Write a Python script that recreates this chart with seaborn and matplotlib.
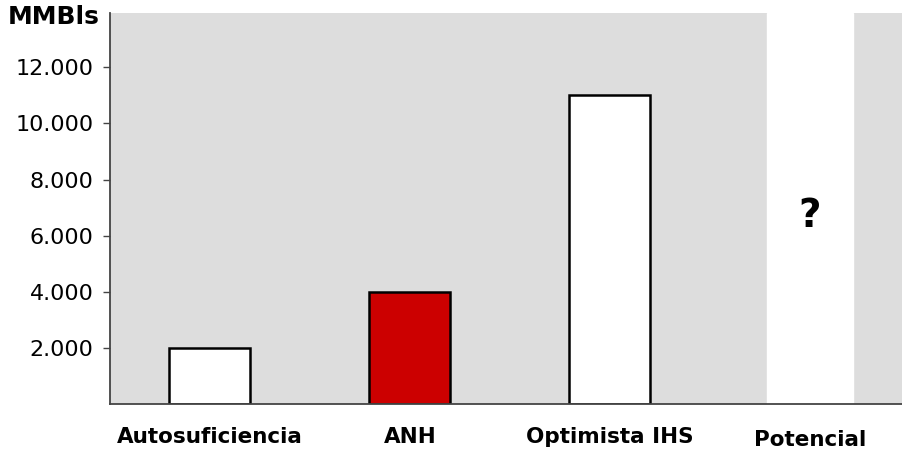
import matplotlib
matplotlib.use("Agg")
import matplotlib.pyplot as plt
import seaborn as sns
import pandas as pd

# data
categorias = ["Autosuficiencia", "ANH", "Optimista IHS", "Potencial"]
valores = [2000, 4000, 11000]
colores = ["#FFFFFF", "#CC0000", "#FFFFFF"]
yticks = [2000, 4000, 6000, 8000, 10000, 12000]
ytick_labels = ["2.000", "4.000", "6.000", "8.000", "10.000", "12.000"]

sns.set_style("white")
plt.rcParams['font.family'] = ['DejaVu Sans']
plt.rcParams['text.color'] = 'black'
plt.rcParams['xtick.color'] = 'black'
plt.rcParams['ytick.color'] = 'black'

df = pd.DataFrame({"cat": categorias[:3], "val": valores})

fig = plt.figure(figsize=(9.03, 4.53), dpi=100)
ax = fig.add_axes([0.1218, 0.108, 0.8782, 0.863])
ax.set_facecolor("#DDDDDD")

# white column behind the "Potencial" category
pos_pot = categorias.index("Potencial")
ax.axvspan(pos_pot - 0.215, pos_pot + 0.215, color="white", zorder=0.5)

sns.barplot(data=df, x="cat", y="val", hue="cat", order=categorias,
            palette=colores, saturation=1, edgecolor="black", linewidth=1.8,
            width=0.405, legend=False, ax=ax, zorder=2)

ax.text(pos_pot, 6700, "?", ha="center", va="center",
        fontsize=28, fontweight="bold", color="black", zorder=3)

ax.set_xlim(-0.5, 3.465)
ax.set_ylim(0, 13930)
ax.set_yticks(yticks)
ax.set_yticklabels(ytick_labels, fontsize=16)
ax.set_xlabel("")
ax.set_ylabel("")
ax.tick_params(axis="y", left=True, length=5, width=1, color="#444444", pad=7)
ax.tick_params(axis="x", bottom=False, pad=13)
for lab in ax.get_xticklabels():
    lab.set_fontweight("bold")
    lab.set_fontsize(15.5)
    if lab.get_text() == "Potencial":
        lab.set_y(-0.008)

for s in ["top", "right"]:
    ax.spines[s].set_visible(False)
ax.spines["left"].set_color("#444444")
ax.spines["bottom"].set_color("#444444")
ax.spines["left"].set_linewidth(1.3)
ax.spines["bottom"].set_linewidth(1.3)

fig.text(0.009, 0.963, "MMBls", fontsize=18, fontweight="bold", va="center")

fig.savefig("out.png", dpi=100)
